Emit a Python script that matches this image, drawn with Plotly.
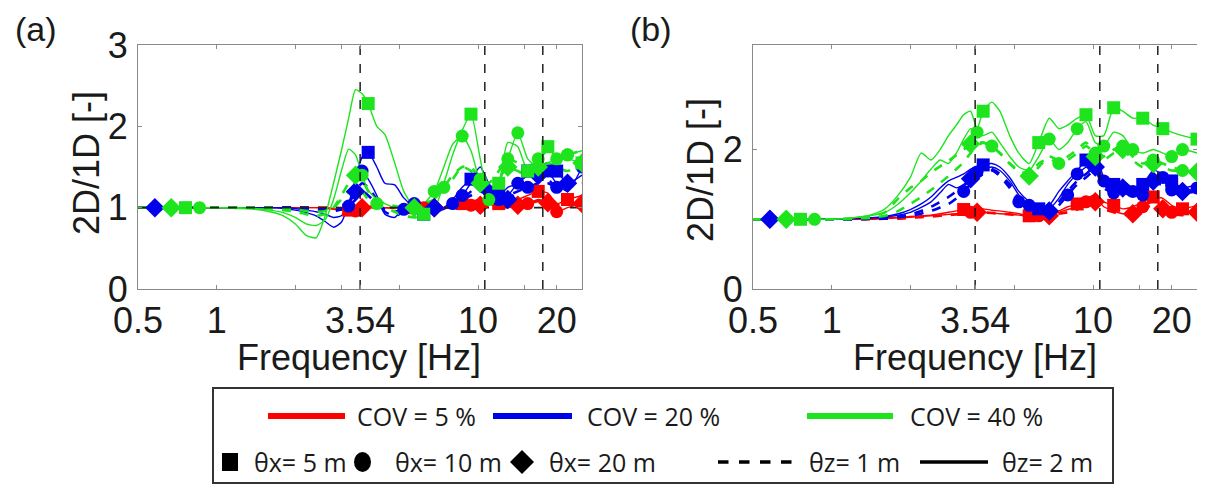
import math
import plotly.graph_objects as go

# page offset of the figure inside the browser (body margin) and figure size
OFF = 8
W, H = 1190, 478

# ---------------- data ----------------
FREQ = [0.5, 0.58, 0.67, 0.76, 0.86, 1.0, 1.2, 1.4, 1.6, 1.8,
        2.0, 2.2, 2.4, 2.6, 2.8, 3.0, 3.2, 3.4, 3.6, 3.8,
        4.1, 4.4, 4.8, 5.2, 5.7, 6.2, 6.8, 7.4, 8.0, 8.7,
        9.4, 10.2, 11.0, 12.0, 13.0, 14.2, 15.5, 17.0, 18.5, 20.0,
        22.0, 25.0]

VLINE_FREQ = [3.54, 10.62, 17.7]

X_TICKS = [0.5, 1, 2, 3, 3.54, 5, 10, 15, 20]
X_TICK_TEXT = ["0.5", "1", "", "", "3.54", "", "10", "", "20"]
A_Y_TICKS = [0, 1, 2, 3]
B_Y_TICKS = [0, 2]

# panel (a)
A_G1 = [1.0, 1.0, 1.0, 1.0, 1.0, 1.0, 0.99, 0.98, 0.95, 0.9,
        0.8, 0.66, 0.63, 0.9, 1.3, 1.7, 2.1, 2.45, 2.4, 2.28,
        2.0, 1.9, 1.55, 1.2, 1.0, 0.92, 0.98, 1.3, 1.65, 1.95,
        2.15, 1.6, 1.15, 1.3, 1.8, 1.75, 1.45, 1.55, 1.75, 1.6,
        1.6, 1.55]
A_G2 = [1, 1, 1, 1, 1, 1, 1.0, 0.99, 0.97, 0.94,
        0.88, 0.8, 0.78, 0.85, 1.1, 1.45, 1.72, 1.65, 1.4, 1.22,
        1.1, 1.05, 1.0, 0.98, 1.0, 1.05, 1.2, 1.5, 1.78, 1.88,
        1.7, 1.3, 1.1, 1.3, 1.6, 1.92, 1.6, 1.5, 1.55, 1.6,
        1.65, 1.7]
A_G3 = [1, 1, 1, 1, 1, 1, 1, 1, 0.99, 0.97,
        0.95, 0.92, 0.9, 0.92, 1.0, 1.15, 1.3, 1.4, 1.35, 1.2,
        1.1, 1.05, 1.02, 1.0, 1.0, 1.05, 1.1, 1.2, 1.35, 1.5,
        1.45, 1.3, 1.2, 1.35, 1.5, 1.45, 1.4, 1.5, 1.55, 1.5,
        1.45, 1.55]
A_G4 = [1, 1, 1, 1, 1, 1, 1, 1, 1, 0.99,
        0.98, 0.96, 0.95, 0.96, 1.0, 1.1, 1.2, 1.25, 1.2, 1.1,
        1.05, 1.0, 0.95, 0.9, 0.88, 0.9, 1.1, 1.25, 1.4, 1.5,
        1.5, 1.35, 1.3, 1.45, 1.6, 1.55, 1.5, 1.6, 1.7, 1.6,
        1.65, 1.7]
A_B1 = [1, 1, 1, 1, 1, 1, 1, 1, 1, 0.99,
        0.97, 0.94, 0.9, 0.83, 0.76, 0.82, 1.05, 1.35, 1.62, 1.68,
        1.5, 1.3, 1.28, 1.12, 1.0, 0.92, 0.95, 1.0, 1.1, 1.25,
        1.35, 1.5, 1.3, 1.15, 1.25, 1.3, 1.45, 1.5, 1.55, 1.45,
        1.3, 1.4]
A_B2 = [1, 1, 1, 1, 1, 1, 1, 1, 1, 1,
        0.99, 0.97, 0.95, 0.92, 0.88, 0.9, 1.05, 1.3, 1.45, 1.35,
        1.15, 0.92, 0.88, 1.0, 1.05, 1.0, 0.95, 0.98, 1.05, 1.15,
        1.3, 1.4, 1.2, 1.1, 1.15, 1.3, 1.4, 1.55, 1.45, 1.3,
        1.2, 1.5]
A_B3 = [1, 1, 1, 1, 1, 1, 1, 1, 1, 1,
        1, 0.99, 0.98, 0.97, 0.96, 0.98, 1.05, 1.2, 1.3, 1.25,
        1.1, 0.95, 0.9, 0.95, 1.0, 1.02, 1.0, 1.0, 1.05, 1.1,
        1.2, 1.3, 1.15, 1.1, 1.1, 1.2, 1.3, 1.4, 1.35, 1.25,
        1.3, 1.35]
A_B4 = [1, 1, 1, 1, 1, 1, 1, 1, 1, 1,
        1, 1, 0.99, 0.98, 0.97, 0.98, 1.02, 1.1, 1.2, 1.15,
        1.05, 0.98, 0.95, 0.98, 1.0, 1.0, 1.0, 1.02, 1.05, 1.1,
        1.15, 1.2, 1.15, 1.1, 1.15, 1.2, 1.25, 1.3, 1.3, 1.25,
        1.25, 1.3]
A_R1 = [1, 1, 1, 1, 1, 1, 1, 1, 1, 1,
        1, 1, 1, 0.99, 0.98, 0.97, 0.97, 0.98, 1.0, 1.02,
        1.01, 1.0, 1.0, 1.0, 1.0, 1.0, 1.0, 1.0, 1.02, 1.05,
        1.08, 1.1, 1.08, 1.05, 1.05, 1.1, 1.15, 1.2, 1.18, 1.05,
        1.1, 1.15]
A_R2 = [1, 1, 1, 1, 1, 1, 1, 1, 1, 1,
        1, 1, 1, 1.0, 0.99, 0.97, 0.95, 0.96, 0.99, 1.0,
        1.0, 1.0, 0.99, 1.0, 1.0, 1.0, 1.0, 1.0, 1.0, 1.02,
        1.03, 1.05, 1.04, 1.02, 1.0, 1.02, 1.05, 1.1, 1.05, 0.95,
        1.0, 1.05]
A_R3 = [1, 1, 1, 1, 1, 1, 1, 1, 1, 1,
        1, 1, 1, 1, 1, 0.99, 0.98, 0.99, 1.0, 1.0,
        1.0, 1.0, 1.0, 1.0, 1.0, 1.0, 1.0, 1.0, 1.0, 1.01,
        1.02, 1.03, 1.04, 1.03, 1.02, 1.03, 1.05, 1.08, 1.06, 1.03,
        1.04, 1.05]

# panel (b)
B_G1 = [1, 1, 1, 1, 1, 1.0, 1.02, 1.06, 1.15, 1.35,
        1.6, 1.95, 1.85, 2.0, 2.2, 2.35, 2.5, 2.55, 2.3, 2.55,
        2.68, 2.55, 2.2, 1.95, 1.8, 2.1, 2.45, 2.3, 2.35, 2.45,
        2.5, 2.2, 2.2, 2.6, 2.55, 2.45, 2.45, 2.35, 2.3, 2.25,
        2.2, 2.15]
B_G2 = [1, 1, 1, 1, 1, 1, 1.02, 1.05, 1.1, 1.22,
        1.38, 1.55, 1.72, 1.85, 1.8, 1.95, 2.15, 2.3, 2.25, 2.2,
        2.25, 2.1, 1.9, 1.75, 1.7, 1.9, 2.15, 2.0, 2.1, 2.3,
        2.4, 2.1, 2.05, 2.25, 2.2, 2.0, 1.95, 2.0, 1.95, 1.9,
        2.0, 1.95]
B_G3 = [1, 1, 1, 1, 1, 1, 1.01, 1.04, 1.1, 1.3,
        1.45, 1.55, 1.67, 1.76, 1.84, 1.92, 2.0, 2.08, 2.1, 2.1,
        2.05, 1.95, 1.8, 1.68, 1.62, 1.75, 1.9, 1.85, 1.9, 2.0,
        2.1, 1.9, 1.85, 1.95, 2.0, 1.85, 1.75, 1.8, 1.75, 1.7,
        1.7, 1.68]
B_G4 = [1, 1, 1, 1, 1, 1, 1.01, 1.02, 1.05, 1.12,
        1.22, 1.32, 1.42, 1.52, 1.62, 1.72, 1.82, 1.95, 2.05, 2.1,
        2.05, 1.95, 1.8, 1.7, 1.65, 1.8, 1.87, 1.8, 1.85, 1.95,
        2.05, 1.95, 1.9, 2.0, 2.05, 1.9, 1.8, 1.85, 1.8, 1.75,
        1.7, 1.65]
B_B1 = [1, 1, 1, 1, 1, 1, 1.01, 1.02, 1.04, 1.08,
        1.14, 1.22, 1.32, 1.45, 1.55, 1.6, 1.65, 1.72, 1.75, 1.78,
        1.8, 1.75, 1.6, 1.4, 1.25, 1.15, 1.2, 1.4, 1.55, 1.7,
        1.85, 1.95, 1.6, 1.5, 1.55, 1.45, 1.5, 1.7, 1.65, 1.55,
        1.45, 1.5]
B_B2 = [1, 1, 1, 1, 1, 1, 1.01, 1.02, 1.03, 1.06,
        1.1, 1.17, 1.25, 1.38, 1.5, 1.45, 1.5, 1.6, 1.68, 1.72,
        1.75, 1.7, 1.55, 1.35, 1.2, 1.1, 1.15, 1.3, 1.5, 1.65,
        1.75, 1.85, 1.55, 1.45, 1.5, 1.4, 1.4, 1.6, 1.6, 1.5,
        1.4, 1.45]
B_B3 = [1, 1, 1, 1, 1, 1, 1, 1.01, 1.02, 1.04,
        1.07, 1.12, 1.18, 1.25, 1.32, 1.4, 1.48, 1.58, 1.65, 1.7,
        1.72, 1.65, 1.5, 1.3, 1.15, 1.08, 1.12, 1.25, 1.4, 1.55,
        1.65, 1.75, 1.5, 1.4, 1.45, 1.35, 1.35, 1.55, 1.55, 1.45,
        1.4, 1.45]
B_B4 = [1, 1, 1, 1, 1, 1, 1, 1.01, 1.01, 1.03,
        1.05, 1.08, 1.12, 1.17, 1.22, 1.3, 1.4, 1.5, 1.6, 1.65,
        1.7, 1.62, 1.45, 1.25, 1.12, 1.06, 1.1, 1.2, 1.35, 1.5,
        1.6, 1.7, 1.45, 1.38, 1.4, 1.32, 1.35, 1.5, 1.5, 1.42,
        1.38, 1.4]
B_R1 = [1, 1, 1, 1, 1, 1, 1.0, 1.01, 1.02, 1.03,
        1.04, 1.05, 1.06, 1.08, 1.1, 1.12, 1.14, 1.15, 1.16, 1.15,
        1.13, 1.12, 1.1, 1.08, 1.05, 1.05, 1.08, 1.12, 1.18, 1.22,
        1.3, 1.35, 1.25, 1.2, 1.15, 1.18, 1.25, 1.32, 1.3, 1.2,
        1.15, 1.2]
B_R2 = [1, 1, 1, 1, 1, 1, 1.0, 1.0, 1.01, 1.02,
        1.03, 1.04, 1.05, 1.06, 1.07, 1.08, 1.1, 1.1, 1.1, 1.1,
        1.09, 1.08, 1.07, 1.06, 1.05, 1.05, 1.06, 1.1, 1.14, 1.18,
        1.25, 1.3, 1.18, 1.12, 1.08, 1.1, 1.18, 1.25, 1.2, 1.1,
        1.08, 1.15]
B_R3 = [1, 1, 1, 1, 1, 1, 1, 1, 1.01, 1.01,
        1.02, 1.03, 1.04, 1.05, 1.06, 1.07, 1.08, 1.09, 1.1, 1.1,
        1.09, 1.08, 1.07, 1.06, 1.05, 1.04, 1.05, 1.08, 1.1, 1.14,
        1.2, 1.25, 1.15, 1.1, 1.06, 1.08, 1.15, 1.2, 1.15, 1.08,
        1.06, 1.1]

# indices of the samples that carry a marker
MK_G1 = [3, 19, 25, 30, 33, 36, 38, 41]
MK_G2 = [4, 18, 26, 29, 32, 35, 39, 40]
MK_G3 = [2, 17, 24, 31, 34, 37, 41]
MK_G4 = [2, 20, 27, 31, 34, 37, 40]
MK_B1 = [19, 25, 30, 33, 36, 39]
MK_B2 = [18, 24, 29, 32, 35, 38, 41]
MK_B3 = [1, 17, 26, 31, 34, 37, 40]
MK_B4 = [16, 23, 28, 33, 36, 39]
MK_R1 = [16, 24, 29, 33, 37, 40]
MK_R2 = [17, 25, 30, 36, 39]
MK_R3 = [18, 26, 31, 35, 38, 41]

# ---------------- styles ----------------
RED = "rgb(255,0,0)"
BLUE = "rgb(0,0,235)"
GREEN = "rgb(30,228,30)"
TXT = "#1a1a1a"
AX = "#8a8a8a"
FONT = "Liberation Sans, Arial, sans-serif"
LFONT = "Open Sans, sans-serif"

fig = go.Figure()


def curves(prefix):
    g = globals()
    return [
        (GREEN, g[prefix + "G1"], MK_G1, "square", "solid"),
        (GREEN, g[prefix + "G2"], MK_G2, "circle", "solid"),
        (GREEN, g[prefix + "G3"], MK_G3, "diamond", "dash"),
        (GREEN, g[prefix + "G4"], MK_G4, "circle", "dash"),
        (BLUE, g[prefix + "B1"], MK_B1, "square", "solid"),
        (BLUE, g[prefix + "B2"], MK_B2, "circle", "solid"),
        (BLUE, g[prefix + "B3"], MK_B3, "diamond", "dash"),
        (BLUE, g[prefix + "B4"], MK_B4, "circle", "dash"),
        (RED, g[prefix + "R1"], MK_R1, "square", "solid"),
        (RED, g[prefix + "R2"], MK_R2, "circle", "solid"),
        (RED, g[prefix + "R3"], MK_R3, "diamond", "dash"),
    ]


def add_panel(prefix, xa, ya, ymax, hline):
    cs = curves(prefix)
    order = [c for c in cs if c[0] == RED] + [c for c in cs if c[0] == BLUE] + \
        [c for c in cs if c[0] == GREEN]
    for color, vals, mk, sym, dash in order:
        fig.add_trace(go.Scatter(
            x=FREQ, y=vals, mode="lines", xaxis=xa, yaxis=ya, showlegend=False,
            line=dict(color=color, width=1.4 if dash == "solid" else 2.6,
                      dash=dash, shape="spline", smoothing=0.6)))
    if hline:
        fig.add_trace(go.Scatter(
            x=[FREQ[0], FREQ[-1]], y=[1, 1], mode="lines", xaxis=xa, yaxis=ya,
            showlegend=False, line=dict(color="#202020", width=1.6, dash="dash")))
    for color, vals, mk, sym, dash in order:
        fig.add_trace(go.Scatter(
            x=[FREQ[i] for i in mk], y=[vals[i] for i in mk], mode="markers",
            xaxis=xa, yaxis=ya, showlegend=False,
            marker=dict(symbol=sym, size=13 if sym != "diamond" else 15,
                        color=color, line=dict(width=0))))
    for f in VLINE_FREQ:
        fig.add_trace(go.Scatter(
            x=[f, f], y=[0, ymax], mode="lines", xaxis=xa, yaxis=ya,
            showlegend=False, line=dict(color="#111111", width=1.4, dash="dash")))


add_panel("A_", "x", "y", 3, True)
add_panel("B_", "x2", "y2", 3.5, False)


def px_x(p):
    return (p - OFF) / W


def px_y(p):
    return 1 - (p - OFF) / H


xcommon = dict(
    type="log", range=[math.log10(0.5), math.log10(25)], automargin=False,
    tickvals=X_TICKS, ticktext=X_TICK_TEXT, ticks="inside", ticklen=4,
    tickcolor=AX, showline=True, linecolor=AX, linewidth=1.2, mirror="ticks",
    showgrid=False, zeroline=False, tickfont=dict(family=FONT, size=36, color=TXT),
)
ycommon = dict(
    ticks="inside", ticklen=4, tickcolor=AX, showline=True, linecolor=AX,
    linewidth=1.2, mirror="ticks", showgrid=False, zeroline=False, automargin=False,
    tickfont=dict(family=FONT, size=36, color=TXT), ticklabelstandoff=2,
)

yd = [px_y(289), px_y(45)]
fig.update_layout(
    template="none",
    width=W, height=H, margin=dict(l=0, r=0, t=0, b=0, pad=0, autoexpand=False),
    paper_bgcolor="white", plot_bgcolor="white", showlegend=False,
    xaxis=dict(domain=[px_x(138), px_x(582)], anchor="y", **xcommon),
    yaxis=dict(domain=yd, anchor="x", range=[0, 3], tickvals=A_Y_TICKS, **ycommon),
    xaxis2=dict(domain=[px_x(753), px_x(1197)], anchor="y2", **xcommon),
    yaxis2=dict(domain=yd, anchor="x2", range=[0, 3.5], tickvals=B_Y_TICKS, **ycommon),
)

ann = []
shapes = []


def text(x, y, s, size, family=FONT, xanchor="center", angle=0, yanchor="middle"):
    ann.append(dict(x=px_x(x), y=px_y(y), xref="paper", yref="paper", text=s,
                    showarrow=False, xanchor=xanchor, yanchor=yanchor,
                    textangle=angle, font=dict(family=family, size=size, color=TXT)))


text(36, OFF, "(a)", 34, yanchor="top")
text(651, OFF, "(b)", 34, yanchor="top")
text(86, 163, "2D/1D [-]", 36, angle=-90)
text(701, 170, "2D/1D [-]", 36, angle=-90)
text(359, 357, "Frequency [Hz]", 36)
text(975, 357, "Frequency [Hz]", 36)

# legend (drawn manually)
shapes.append(dict(type="rect", xref="paper", yref="paper", x0=px_x(213), x1=px_x(1113),
                   y0=px_y(483), y1=px_y(388), line=dict(color="#333333", width=2)))
r1 = 416
for x0, x1, col, lab, tx in [(268, 345, RED, "COV = 5 %", 355),
                             (493, 572, BLUE, "COV = 20 %", 585),
                             (807, 893, GREEN, "COV = 40 %", 908)]:
    shapes.append(dict(type="line", xref="paper", yref="paper", x0=px_x(x0), x1=px_x(x1),
                       y0=px_y(r1), y1=px_y(r1), line=dict(color=col, width=6)))
    text(tx, r1, lab, 25, family=LFONT, xanchor="left")

r2 = 462
shapes.append(dict(type="rect", xref="paper", yref="paper", x0=px_x(222), x1=px_x(238),
                   y0=px_y(r2 + 9), y1=px_y(r2 - 9), fillcolor="black", line=dict(width=0)))
shapes.append(dict(type="circle", xref="paper", yref="paper", x0=px_x(354), x1=px_x(371),
                   y0=px_y(r2 + 10), y1=px_y(r2 - 10), fillcolor="black", line=dict(width=0)))
shapes.append(dict(type="path", xref="paper", yref="paper",
                   path="M {} {} L {} {} L {} {} L {} {} Z".format(
                       px_x(510), px_y(r2), px_x(522), px_y(r2 - 12),
                       px_x(534), px_y(r2), px_x(522), px_y(r2 + 12)),
                   fillcolor="black", line=dict(width=0)))
shapes.append(dict(type="line", xref="paper", yref="paper", x0=px_x(718), x1=px_x(792),
                   y0=px_y(r2), y1=px_y(r2), line=dict(color="black", width=3.5, dash="dash")))
shapes.append(dict(type="line", xref="paper", yref="paper", x0=px_x(920), x1=px_x(988),
                   y0=px_y(r2), y1=px_y(r2), line=dict(color="black", width=3.5)))
for tx, lab in [(252, "θx= 5 m"), (393, "θx= 10 m"), (547, "θx= 20 m"),
                (807, "θz= 1 m"), (1000, "θz= 2 m")]:
    text(tx, r2, lab, 25, family=LFONT, xanchor="left")

fig.update_layout(annotations=ann, shapes=shapes)
fig.write_html("out.html")
